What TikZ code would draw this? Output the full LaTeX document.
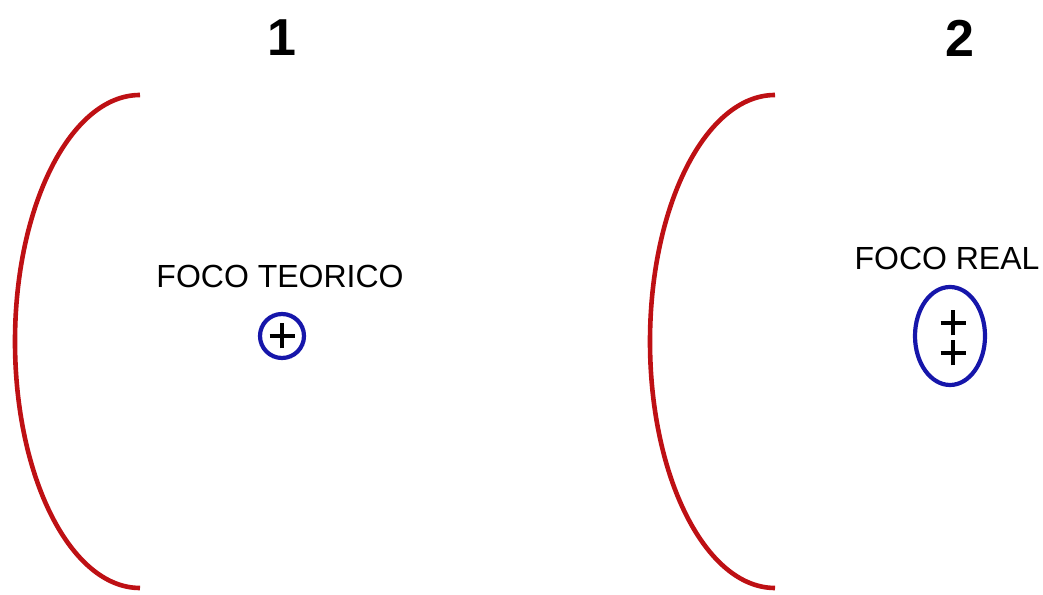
\documentclass[tikz,border=0pt]{standalone}
\usepackage{fontspec}
\setmainfont{Liberation Sans}
\usetikzlibrary{shapes.geometric}
\definecolor{mirrorcol}{RGB}{190,16,20}
\definecolor{focuscol}{RGB}{22,22,170}

\begin{document}
\begin{tikzpicture}[
  x=1pt, y=1pt,
  mirror/.style={draw=mirrorcol,line width=4.6pt},
  focus/.style={circle,draw=focuscol,line width=4.2pt,minimum size=44pt,inner sep=0pt},
  realfocus/.style={ellipse,draw=focuscol,line width=4.2pt,minimum width=70pt,minimum height=98pt,inner sep=0pt},
  cross/.style={line width=3.4pt,black},
  title/.style={font=\fontsize{52}{52}\selectfont\bfseries,inner sep=0pt},
  lbl/.style={font=\fontsize{32}{32}\selectfont,inner sep=0pt},
]
\useasboundingbox (0,0) rectangle (1043,594);

% --- case 1: theoretical focus ---
\node[title] (n1) at (282,556) {1};
\draw[mirror] (140,499) arc[start angle=90,end angle=270,x radius=125pt,y radius=246.5pt];
\node[lbl] (t1) at (280,318) {FOCO TEORICO};
\node[focus] (f1) at (282,258) {};
\draw[cross] ([xshift=-12.5pt]f1.center) -- ([xshift=12.5pt]f1.center);
\draw[cross] ([yshift=-12.5pt]f1.center) -- ([yshift=12.5pt]f1.center);

% --- case 2: real focus ---
\node[title] (n2) at (960,556) {2};
\draw[mirror] (775,499) arc[start angle=90,end angle=270,x radius=125pt,y radius=246.5pt];
\node[lbl] (t2) at (947,336) {FOCO REAL};
\node[realfocus] (f2) at (950,258) {};
\coordinate (p1) at (953,271);
\coordinate (p2) at (953,241);
\foreach \p in {p1,p2} {
  \draw[cross] ([xshift=-12.5pt]\p) -- ([xshift=12.5pt]\p);
  \draw[cross] ([yshift=-12.5pt]\p) -- ([yshift=12.5pt]\p);
}
\end{tikzpicture}
\end{document}
